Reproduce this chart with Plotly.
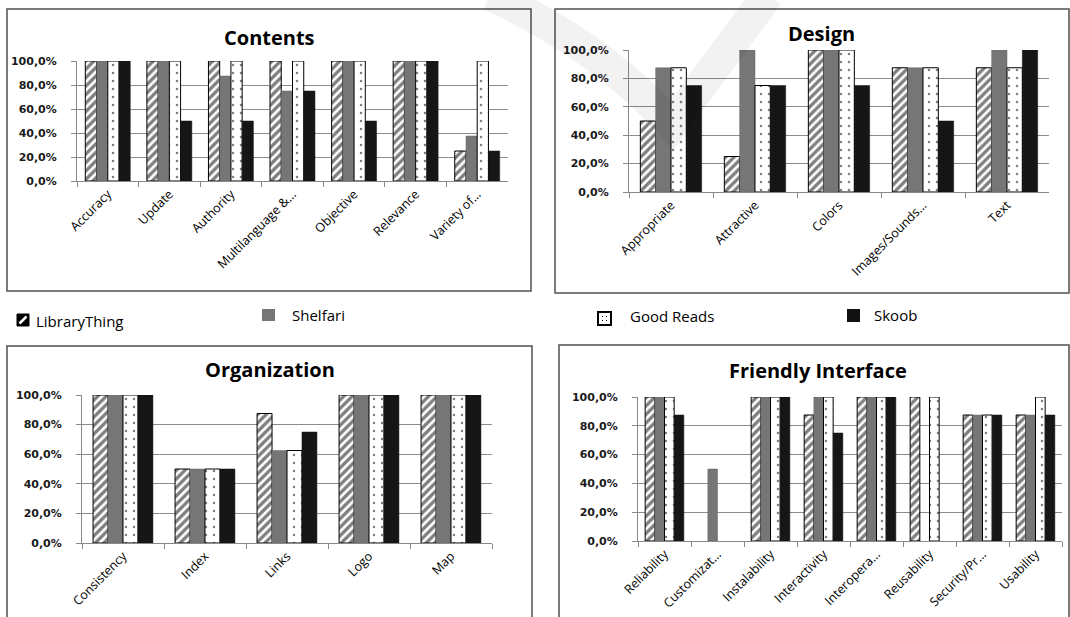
import plotly.graph_objects as go

series = ["LibraryThing", "Shelfari", "Good Reads", "Skoob"]

contents_cats = ["Accuracy", "Update", "Authority", "Multilanguage &...", "Objective", "Relevance", "Variety of..."]
contents_lt = [100, 100, 100, 100, 100, 100, 25]
contents_sh = [100, 100, 87.5, 75, 100, 100, 37.5]
contents_gr = [100, 100, 100, 100, 100, 100, 100]
contents_sk = [100, 50, 50, 75, 50, 100, 25]

design_cats = ["Appropriate", "Attractive", "Colors", "Images/Sounds...", "Text"]
design_lt = [50, 25, 100, 87.5, 87.5]
design_sh = [87.5, 100, 100, 87.5, 100]
design_gr = [87.5, 75, 100, 87.5, 87.5]
design_sk = [75, 75, 75, 50, 100]

org_cats = ["Consistency", "Index", "Links", "Logo", "Map"]
org_lt = [100, 50, 87.5, 100, 100]
org_sh = [100, 50, 62.5, 100, 100]
org_gr = [100, 50, 62.5, 100, 100]
org_sk = [100, 50, 75, 100, 100]

fi_cats = ["Reliability", "Customizat...", "Instalability", "Interactivity", "Interopera...", "Reusability", "Security/Pr...", "Usability"]
fi_lt = [100, 0, 100, 87.5, 100, 100, 87.5, 87.5]
fi_sh = [100, 50, 100, 100, 100, 0, 87.5, 87.5]
fi_gr = [100, 0, 100, 100, 100, 100, 87.5, 100]
fi_sk = [87.5, 0, 100, 75, 100, 0, 87.5, 87.5]

y_tickvals = [0, 20, 40, 60, 80, 100]
y_ticktext = [f"{v:.1f}".replace(".", ",") + "%" for v in y_tickvals]

panel_titles = ["Contents", "Design", "Organization", "Friendly Interface"]

W, H = 1070, 617

def px(x):
    return x / W

def py(y):
    return 1 - y / H

panels = [
    dict(cats=contents_cats, vals=[contents_lt, contents_sh, contents_gr, contents_sk],
         x0=77, x1=508, ytop=61, ybot=181, box=(7, 9, 531, 291), title_xy=(269, 37)),
    dict(cats=design_cats, vals=[design_lt, design_sh, design_gr, design_sk],
         x0=629, x1=1049, ytop=50, ybot=192, box=(555, 9, 1069, 293), title_xy=(821, 34)),
    dict(cats=org_cats, vals=[org_lt, org_sh, org_gr, org_sk],
         x0=82, x1=492, ytop=395, ybot=543, box=(7, 346, 532, 620), title_xy=(270, 369)),
    dict(cats=fi_cats, vals=[fi_lt, fi_sh, fi_gr, fi_sk],
         x0=638, x1=1062, ytop=397, ybot=541, box=(559, 345, 1069, 620), title_xy=(818, 370)),
]

def style(s, vals):
    outline = [0 if v == 0 else 1 for v in vals]
    thin = [0 if v == 0 else 0.5 for v in vals]
    if s == 0:
        return dict(color="white", line=dict(color="black", width=outline),
                    pattern=dict(shape="/", fgcolor="black", bgcolor="white", size=6, solidity=0.55))
    if s == 1:
        return dict(color="#767676", line=dict(color="#666666", width=thin))
    if s == 2:
        return dict(color="white", line=dict(color="black", width=outline),
                    pattern=dict(shape=".", fgcolor="black", bgcolor="white", size=8, solidity=0.08))
    return dict(color="#161616", line=dict(color="#111111", width=thin))

fig = go.Figure()
layout = {}
annotations = []
shapes = []

for i, p in enumerate(panels):
    n = i + 1
    xa = "x" if n == 1 else f"x{n}"
    ya = "y" if n == 1 else f"y{n}"
    for s, name in enumerate(series):
        fig.add_trace(go.Bar(x=p["cats"], y=p["vals"][s], name=name, marker=style(s, p["vals"][s]),
                             xaxis=xa, yaxis=ya, showlegend=False))
    xkey = "xaxis" if n == 1 else f"xaxis{n}"
    ykey = "yaxis" if n == 1 else f"yaxis{n}"
    layout[xkey] = dict(domain=[px(p["x0"]), px(p["x1"])], anchor=ya, type="category",
                        automargin=False,
                        showline=True, linecolor="#888888", linewidth=1,
                        ticks="outside", tickson="boundaries", ticklen=5, tickcolor="#888888",
                        tickangle=-45, showgrid=False,
                        tickfont=dict(family="Open Sans", size=12.5, color="black"))
    layout[ykey] = dict(domain=[py(p["ybot"]), py(p["ytop"])], anchor=xa, range=[0, 100],
                        automargin=False,
                        tickvals=y_tickvals, ticktext=y_ticktext,
                        showline=True, linecolor="#888888", linewidth=1,
                        ticks="outside", ticklen=5, tickcolor="#888888", ticklabelstandoff=12,
                        showgrid=True, gridcolor="#8c8c8c", gridwidth=1, zeroline=False,
                        tickfont=dict(family="DejaVu Sans", size=11, color="#1a1a1a", weight="bold"))
    bx0, by0, bx1, by1 = p["box"]
    shapes.append(dict(type="rect", xref="paper", yref="paper",
                       x0=px(bx0), x1=px(bx1), y0=py(by1), y1=py(by0),
                       line=dict(color="#505050", width=1.5), fillcolor="rgba(0,0,0,0)", layer="below"))
    tx, ty = p["title_xy"]
    annotations.append(dict(text=f"<b>{panel_titles[i]}</b>", x=px(tx), y=py(ty), xref="paper", yref="paper",
                            showarrow=False, xanchor="center", yanchor="middle",
                            font=dict(family="Open Sans", size=20, color="black")))

# faint watermark swoosh behind the top panels
shapes.append(dict(type="path", xref="paper", yref="paper",
                   path=f"M {px(490)},{py(-5)} Q {px(600)},{py(45)} {px(672)},{py(125)} L {px(768)},{py(-5)}",
                   line=dict(color="rgba(0,0,0,0.05)", width=32), fillcolor="rgba(0,0,0,0)", layer="above"))

# legend (manual)
leg = [
    dict(name="LibraryThing", icon=(17, 314, 29, 326), text_xy=(34, 321)),
    dict(name="Shelfari", icon=(262, 309, 275, 321), text_xy=(290, 315)),
    dict(name="Good Reads", icon=(598, 312, 611, 325), text_xy=(628, 316)),
    dict(name="Skoob", icon=(847, 309, 860, 322), text_xy=(872, 315)),
]
x0, y0, x1, y1 = leg[0]["icon"]
shapes.append(dict(type="rect", xref="paper", yref="paper", x0=px(x0), x1=px(x1), y0=py(y1), y1=py(y0),
                   fillcolor="black", line=dict(color="black", width=1)))
shapes.append(dict(type="line", xref="paper", yref="paper", x0=px(x0 + 2.5), y0=py(y1 - 2.5), x1=px(x1 - 2.5), y1=py(y0 + 2.5),
                   line=dict(color="white", width=2.5)))
x0, y0, x1, y1 = leg[1]["icon"]
shapes.append(dict(type="rect", xref="paper", yref="paper", x0=px(x0), x1=px(x1), y0=py(y1), y1=py(y0),
                   fillcolor="#767676", line=dict(width=0)))
x0, y0, x1, y1 = leg[2]["icon"]
shapes.append(dict(type="rect", xref="paper", yref="paper", x0=px(x0), x1=px(x1), y0=py(y1), y1=py(y0),
                   fillcolor="white", line=dict(color="black", width=2)))
for dx, dy in [(4, 4), (8, 4), (4, 8), (8, 8)]:
    shapes.append(dict(type="rect", xref="paper", yref="paper", x0=px(x0 + dx), x1=px(x0 + dx + 1),
                       y0=py(y0 + dy + 1), y1=py(y0 + dy), fillcolor="black", line=dict(width=0)))
x0, y0, x1, y1 = leg[3]["icon"]
shapes.append(dict(type="rect", xref="paper", yref="paper", x0=px(x0), x1=px(x1), y0=py(y1), y1=py(y0),
                   fillcolor="#111111", line=dict(width=0)))
for item in leg:
    tx, ty = item["text_xy"]
    annotations.append(dict(text=item["name"], x=px(tx), y=py(ty), xref="paper", yref="paper",
                            showarrow=False, xanchor="left", yanchor="middle",
                            font=dict(family="Open Sans", size=15, color="black")))

fig.update_layout(**layout)
fig.update_layout(width=W, height=H, margin=dict(l=0, r=0, t=0, b=0, autoexpand=False),
                  paper_bgcolor="white", plot_bgcolor="white",
                  barmode="group", bargap=0.27, bargroupgap=0,
                  shapes=shapes, annotations=annotations,
                  font=dict(family="Open Sans", color="black"))

fig.write_html("out.html")
